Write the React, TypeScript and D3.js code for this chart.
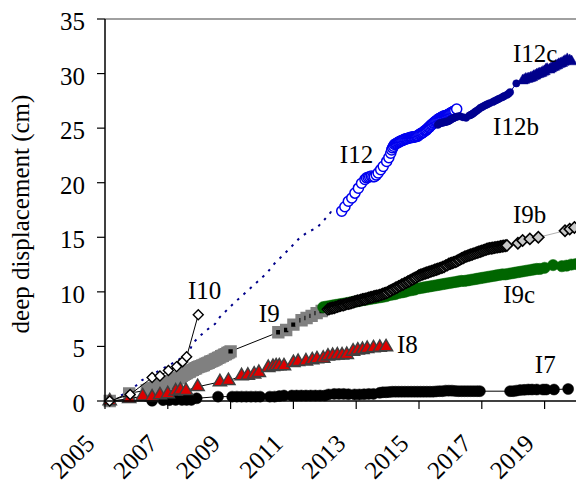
import React from 'react';
import * as d3 from 'd3';

type Pt = [number, number];

const W = 576;
const H = 488;
const margin = { top: 19, right: 0, bottom: 87, left: 105 };

const yTicks = [0, 5, 10, 15, 20, 25, 30, 35];
const xTicks = [2005, 2007, 2009, 2011, 2013, 2015, 2017, 2019];

// I7 - black circles
const i7: Pt[] = [
  [2005.15, 0], [2006.5, 0.02], [2006.85, 0.08], [2007.05, 0.08], [2007.25, 0.1], [2007.45, 0.1],
  [2007.6, 0.1], [2007.75, 0.1], [2007.92, 0.25], [2008.6, 0.4], [2009.05, 0.4], [2009.2, 0.4],
  [2009.35, 0.4], [2009.5, 0.4], [2009.65, 0.4], [2009.8, 0.4], [2009.94, 0.4], [2010.25, 0.4],
  [2010.4, 0.4], [2010.55, 0.45], [2010.7, 0.5], [2010.95, 0.5], [2011.1, 0.5], [2011.25, 0.5],
  [2011.4, 0.5], [2011.55, 0.5], [2011.7, 0.5], [2011.85, 0.5], [2012.0, 0.5], [2012.12, 0.6],
  [2012.3, 0.65], [2012.45, 0.65], [2012.6, 0.65], [2012.75, 0.62], [2012.95, 0.6], [2013.1, 0.6],
  [2013.25, 0.62], [2013.4, 0.65], [2013.55, 0.65], [2013.75, 0.75], [2013.85, 0.8], [2013.95, 0.8],
  [2014.05, 0.82], [2014.15, 0.85], [2014.25, 0.85], [2014.35, 0.85], [2014.45, 0.85], [2014.55, 0.85],
  [2014.65, 0.85], [2014.75, 0.85], [2014.85, 0.85], [2014.95, 0.85], [2015.05, 0.85], [2015.15, 0.85],
  [2015.25, 0.85], [2015.35, 0.85], [2015.45, 0.85], [2015.55, 0.88], [2015.65, 0.9], [2015.75, 0.9],
  [2015.85, 0.95], [2015.95, 0.95], [2016.05, 0.95], [2016.15, 0.92], [2016.25, 0.9], [2016.35, 0.9],
  [2016.45, 0.9], [2016.55, 0.9], [2016.65, 0.9], [2016.75, 0.9], [2016.85, 0.9], [2016.94, 0.9],
  [2017.9, 0.9], [2018.0, 0.9], [2018.1, 0.95], [2018.22, 1.0], [2018.35, 1.02], [2018.48, 1.05],
  [2018.6, 1.05], [2018.75, 1.05], [2018.95, 1.05], [2019.05, 1.05], [2019.3, 1.05], [2019.75, 1.1],
];

// I8 - red triangles
const i8: Pt[] = [
  [2005.15, 0], [2005.77, 0.2], [2006.2, 0.45], [2006.5, 0.35], [2006.75, 0.55], [2007.0, 0.65],
  [2007.25, 0.9], [2007.4, 1.0], [2007.58, 0.95], [2007.95, 1.3], [2008.66, 1.75], [2008.93, 1.85],
  [2009.35, 2.3], [2009.55, 2.35], [2009.75, 2.45], [2009.9, 2.6], [2010.2, 3.05], [2010.35, 3.15],
  [2010.45, 3.2], [2010.55, 3.2], [2010.7, 3.2], [2011.0, 3.5], [2011.15, 3.6], [2011.4, 3.65],
  [2011.6, 3.75], [2011.75, 3.85], [2011.95, 3.9], [2012.1, 4.1], [2012.25, 4.15], [2012.4, 4.2],
  [2012.55, 4.2], [2012.7, 4.25], [2012.9, 4.55], [2013.05, 4.65], [2013.2, 4.7], [2013.35, 4.8],
  [2013.55, 4.85], [2013.75, 4.9], [2013.95, 4.95],
];

// I9 - black squares, grey edge
const i9: Pt[] = [
  [2005.15, 0], [2005.77, 0.7], [2006.33, 1.0], [2006.4, 1.05], [2006.45, 1.1], [2006.5, 1.15],
  [2006.55, 1.2], [2006.6, 1.25], [2006.65, 1.3], [2006.7, 1.35], [2006.75, 1.45], [2006.8, 1.5],
  [2006.85, 1.55], [2006.9, 1.6], [2006.95, 1.65], [2007.0, 1.7], [2007.05, 1.75], [2007.1, 1.8],
  [2007.15, 1.85], [2007.2, 1.95], [2007.25, 2.0], [2007.3, 2.05], [2007.35, 2.1], [2007.4, 2.2],
  [2007.45, 2.3], [2007.5, 2.4], [2007.55, 2.5], [2007.6, 2.55], [2007.65, 2.65], [2007.7, 2.7],
  [2007.75, 2.8], [2007.8, 2.85], [2007.85, 2.95], [2007.9, 3.0], [2007.95, 3.1], [2008.0, 3.15],
  [2008.05, 3.2], [2008.1, 3.25], [2008.15, 3.3], [2008.2, 3.4], [2008.25, 3.45], [2008.3, 3.5],
  [2008.35, 3.6], [2008.4, 3.65], [2008.45, 3.7], [2008.5, 3.8], [2008.55, 3.85], [2008.6, 3.95],
  [2008.65, 4.0], [2008.7, 4.1], [2008.75, 4.15], [2008.8, 4.25], [2008.85, 4.3], [2008.9, 4.4],
  [2008.95, 4.45], [2009.0, 4.55], [2010.52, 6.3], [2010.77, 6.5], [2011.0, 7.0], [2011.26, 7.4],
  [2011.42, 7.6], [2011.58, 7.8], [2011.74, 8.05], [2011.9, 8.25],
];

// I9b - grey diamonds (dense record 2012-2017, then sparse)
const i9b: Pt[] = [
  [2012.1, 8.4], [2012.15, 8.45], [2012.2, 8.5], [2012.25, 8.52], [2012.3, 8.55], [2012.35, 8.6],
  [2012.4, 8.65], [2012.45, 8.7], [2012.5, 8.75], [2012.55, 8.78], [2012.6, 8.8], [2012.65, 8.85],
  [2012.7, 8.9], [2012.75, 8.92], [2012.8, 8.95], [2012.85, 9.0], [2012.9, 9.05], [2012.95, 9.1],
  [2013.0, 9.15], [2013.05, 9.18], [2013.1, 9.2], [2013.15, 9.25], [2013.2, 9.3], [2013.25, 9.32],
  [2013.3, 9.35], [2013.35, 9.4], [2013.4, 9.45], [2013.45, 9.48], [2013.5, 9.5], [2013.55, 9.55],
  [2013.6, 9.6], [2013.65, 9.62], [2013.7, 9.65], [2013.75, 9.7], [2013.8, 9.75], [2013.85, 9.8],
  [2013.9, 9.85], [2013.95, 9.9], [2014.0, 9.95], [2014.05, 10.05], [2014.1, 10.1], [2014.15, 10.2],
  [2014.2, 10.25], [2014.25, 10.35], [2014.3, 10.4], [2014.35, 10.5], [2014.4, 10.55], [2014.45, 10.65],
  [2014.5, 10.7], [2014.55, 10.8], [2014.6, 10.85], [2014.65, 10.95], [2014.7, 11.0], [2014.75, 11.1],
  [2014.8, 11.15], [2014.85, 11.25], [2014.9, 11.3], [2014.95, 11.4], [2015.0, 11.5], [2015.05, 11.55],
  [2015.1, 11.6], [2015.15, 11.65], [2015.2, 11.7], [2015.25, 11.75], [2015.3, 11.8], [2015.35, 11.85],
  [2015.4, 11.9], [2015.45, 11.95], [2015.5, 12.0], [2015.55, 12.05], [2015.6, 12.1], [2015.65, 12.15],
  [2015.7, 12.2], [2015.75, 12.25], [2015.8, 12.3], [2015.85, 12.4], [2015.9, 12.45], [2015.95, 12.55],
  [2016.0, 12.6], [2016.05, 12.65], [2016.1, 12.7], [2016.15, 12.75], [2016.2, 12.8], [2016.25, 12.9],
  [2016.3, 12.95], [2016.35, 13.05], [2016.4, 13.1], [2016.45, 13.2], [2016.5, 13.25], [2016.55, 13.3],
  [2016.6, 13.35], [2016.65, 13.4], [2016.7, 13.45], [2016.75, 13.5], [2016.8, 13.55], [2016.85, 13.6],
  [2016.9, 13.65], [2016.95, 13.7], [2017.0, 13.75], [2017.05, 13.8], [2017.1, 13.85], [2017.15, 13.9],
  [2017.2, 13.95], [2017.25, 13.98], [2017.3, 14.0], [2017.35, 14.02], [2017.4, 14.05], [2017.45, 14.08],
  [2017.5, 14.1], [2017.55, 14.12], [2017.6, 14.15], [2017.65, 14.18], [2017.7, 14.2], [2017.75, 14.22],
  [2017.8, 14.25], [2018.15, 14.45], [2018.3, 14.7], [2018.53, 14.85], [2018.8, 15.0], [2019.65, 15.6],
  [2019.8, 15.75], [2019.95, 15.9],
];

// I9c - green circles
const i9c: Pt[] = [
  [2011.95, 8.6], [2012.05, 8.65], [2012.15, 8.7], [2012.25, 8.75], [2012.35, 8.8], [2012.45, 8.85],
  [2012.55, 8.9], [2012.65, 8.95], [2012.75, 9.0], [2012.85, 9.05], [2012.95, 9.1], [2013.05, 9.15],
  [2013.15, 9.2], [2013.25, 9.25], [2013.35, 9.3], [2013.45, 9.35], [2013.55, 9.4], [2013.65, 9.45],
  [2013.75, 9.5], [2013.85, 9.55], [2013.95, 9.6], [2014.05, 9.7], [2014.15, 9.75], [2014.25, 9.8],
  [2014.35, 9.9], [2014.45, 9.95], [2014.55, 10.0], [2014.65, 10.1], [2014.75, 10.15], [2014.85, 10.2],
  [2014.95, 10.3], [2015.05, 10.35], [2015.15, 10.4], [2015.25, 10.45], [2015.35, 10.5], [2015.45, 10.55],
  [2015.55, 10.6], [2015.65, 10.65], [2015.75, 10.7], [2015.85, 10.75], [2015.95, 10.8], [2016.05, 10.85],
  [2016.15, 10.9], [2016.25, 10.95], [2016.35, 11.0], [2016.45, 11.0], [2016.55, 11.05], [2016.65, 11.1],
  [2016.75, 11.15], [2016.85, 11.2], [2016.95, 11.25], [2017.05, 11.3], [2017.15, 11.35], [2017.25, 11.4],
  [2017.35, 11.45], [2017.45, 11.5], [2017.55, 11.55], [2017.65, 11.6], [2017.75, 11.6], [2017.85, 11.65],
  [2017.95, 11.7], [2018.05, 11.75], [2018.15, 11.8], [2018.25, 11.85], [2018.35, 11.9], [2018.45, 11.95],
  [2018.55, 12.0], [2018.65, 12.05], [2018.75, 12.1], [2018.85, 12.1], [2019.0, 12.2], [2019.27, 12.45],
  [2019.55, 12.35], [2019.7, 12.4], [2019.85, 12.5], [2020.0, 12.55],
];

// I10 - white diamonds
const i10: Pt[] = [
  [2005.15, 0], [2005.8, 0.6], [2006.5, 2.15], [2006.75, 2.3], [2007.02, 2.8], [2007.28, 3.15],
  [2007.47, 3.6], [2007.6, 4.05], [2007.97, 7.9],
];

// I12 early readings - dotted line
const i12Early: Pt[] = [
  [2005.0, 0], [2005.5, 0.5], [2005.8, 0.9], [2006.17, 1.9], [2006.8, 2.9], [2007.3, 3.7],
  [2007.65, 4.35], [2007.8, 5.3], [2008.0, 5.9], [2008.24, 6.5], [2008.5, 7.05], [2008.66, 7.7],
  [2009.08, 8.9], [2009.5, 10.0], [2010.15, 11.7], [2010.4, 12.6], [2010.84, 13.85], [2011.2, 14.95],
  [2011.47, 15.5], [2011.74, 15.85], [2011.97, 16.55], [2012.19, 17.3], [2012.5, 17.4],
];

// I12 - open blue circles
const i12: Pt[] = [
  [2012.54, 17.4], [2012.64, 17.8], [2012.75, 18.3], [2012.86, 18.6], [2012.96, 19.05], [2013.07, 19.5],
  [2013.17, 19.95], [2013.28, 20.3], [2013.33, 20.45], [2013.38, 20.5], [2013.43, 20.55], [2013.48, 20.6],
  [2013.53, 20.55], [2013.58, 20.55], [2013.64, 20.7], [2013.7, 20.9], [2013.78, 21.2], [2013.86, 21.5],
  [2013.97, 21.95], [2014.04, 22.3], [2014.1, 22.7], [2014.13, 23.0], [2014.16, 23.2], [2014.19, 23.35],
  [2014.22, 23.5], [2014.25, 23.55], [2014.28, 23.6], [2014.31, 23.65], [2014.34, 23.7], [2014.37, 23.75],
  [2014.4, 23.8], [2014.43, 23.85], [2014.46, 23.85], [2014.49, 23.9], [2014.52, 23.95], [2014.55, 24.0],
  [2014.58, 24.0], [2014.61, 24.05], [2014.64, 24.05], [2014.67, 24.1], [2014.7, 24.1], [2014.73, 24.15],
  [2014.76, 24.15], [2014.79, 24.15], [2014.82, 24.2], [2014.85, 24.2], [2014.88, 24.2], [2014.91, 24.25],
  [2014.94, 24.25], [2014.97, 24.3], [2015.0, 24.4], [2015.03, 24.45], [2015.06, 24.5], [2015.09, 24.55],
  [2015.12, 24.6], [2015.15, 24.65], [2015.18, 24.75], [2015.21, 24.8], [2015.24, 24.85], [2015.27, 24.95],
  [2015.3, 25.05], [2015.33, 25.1], [2015.36, 25.2], [2015.39, 25.3], [2015.42, 25.35], [2015.45, 25.45],
  [2015.48, 25.5], [2015.51, 25.6], [2015.54, 25.65], [2015.57, 25.7], [2015.6, 25.8], [2015.63, 25.85],
  [2015.66, 25.9], [2015.69, 25.95], [2015.72, 26.0], [2015.75, 26.05], [2015.78, 26.1], [2015.81, 26.1],
  [2015.84, 26.15], [2015.87, 26.15], [2015.9, 26.2], [2015.93, 26.25], [2015.96, 26.3], [2015.99, 26.35],
  [2016.02, 26.4], [2016.05, 26.45], [2016.08, 26.5], [2016.11, 26.55], [2016.14, 26.6], [2016.2, 26.75],
];

// I12b - small navy dots
const i12b: Pt[] = [
  [2015.6, 25.3], [2015.64, 25.4], [2015.67, 25.45], [2015.71, 25.48], [2015.75, 25.5], [2015.78, 25.52],
  [2015.82, 25.55], [2015.86, 25.58], [2015.9, 25.6], [2015.94, 25.65], [2015.97, 25.7], [2016.01, 25.78],
  [2016.05, 25.85], [2016.09, 25.9], [2016.12, 25.95], [2016.16, 26.0], [2016.2, 26.05], [2016.25, 26.08],
  [2016.3, 26.1], [2016.4, 26.0], [2016.5, 25.95], [2016.6, 26.15], [2016.64, 26.2], [2016.67, 26.25],
  [2016.71, 26.32], [2016.75, 26.4], [2016.79, 26.5], [2016.84, 26.6], [2016.9, 26.72], [2016.95, 26.85],
  [2017.0, 26.92], [2017.05, 27.0], [2017.1, 27.08], [2017.15, 27.15], [2017.2, 27.22], [2017.26, 27.3],
  [2017.35, 27.4], [2017.4, 27.48], [2017.45, 27.55], [2017.5, 27.62], [2017.55, 27.7], [2017.63, 27.8],
  [2017.68, 27.88], [2017.72, 27.95], [2017.8, 28.05], [2017.85, 28.15], [2017.9, 28.3], [2018.1, 29.1],
];

// I12c - navy triangles
const i12c: Pt[] = [
  [2018.3, 29.35], [2018.35, 29.4], [2018.4, 29.5], [2018.45, 29.5], [2018.5, 29.55], [2018.55, 29.6],
  [2018.6, 29.65], [2018.65, 29.75], [2018.7, 29.8], [2018.75, 29.9], [2018.8, 29.95], [2018.85, 30.0],
  [2018.9, 30.05], [2018.95, 30.15], [2019.0, 30.2], [2019.04, 30.35], [2019.08, 30.4], [2019.15, 30.35],
  [2019.2, 30.45], [2019.25, 30.55], [2019.3, 30.6], [2019.35, 30.7], [2019.4, 30.75], [2019.45, 30.85],
  [2019.5, 30.9], [2019.55, 30.95], [2019.6, 31.05], [2019.65, 31.15], [2019.72, 31.3], [2019.8, 31.2],
  [2019.86, 31.1],
];

const seriesLabels: { text: string; at: Pt }[] = [
  { text: 'I12c', at: [2017.99, 31.1] },
  { text: 'I12b', at: [2017.36, 24.4] },
  { text: 'I12', at: [2012.48, 21.8] },
  { text: 'I9b', at: [2017.99, 16.3] },
  { text: 'I9c', at: [2017.68, 9.0] },
  { text: 'I10', at: [2007.64, 9.35] },
  { text: 'I9', at: [2009.9, 7.27] },
  { text: 'I8', at: [2014.3, 4.4] },
  { text: 'I7', at: [2018.69, 2.57] },
];

const FONT = "'Liberation Serif', 'Times New Roman', Times, serif";

const x = d3.scaleLinear().domain([2005, 2020]).range([margin.left, W - margin.right]);
const y = d3.scaleLinear().domain([0, 35]).range([H - margin.bottom, margin.top]);

const line = d3.line<Pt>().x(d => x(d[0])).y(d => y(d[1]));

const sym = (type: d3.SymbolType, size: number) => d3.symbol(type, size)() as string;

const Marks = ({ data, path, fill, stroke, sw, rot = 0 }:
  { data: Pt[]; path: string; fill: string; stroke: string; sw: number; rot?: number }) => (
  <g>
    {data.map((d, i) => (
      <path key={i} d={path} fill={fill} stroke={stroke} strokeWidth={sw}
        transform={`translate(${x(d[0])},${y(d[1])}) rotate(${rot})`} />
    ))}
  </g>
);

export default function App() {
  const x0 = margin.left;
  const y0 = H - margin.bottom;
  const txt = { fontFamily: FONT, fill: '#000' };
  return (
    <svg width={W} height={H} style={{ position: 'absolute', left: 0, top: 0, background: '#fff' }}>
      {/* frame */}
      <line x1={x0} x2={W} y1={margin.top} y2={margin.top} stroke="#808080" strokeWidth={1.5} />

      {/* I12 early, dotted */}
      <path d={line(i12Early) as string} fill="none" stroke="#00008b" strokeWidth={2} strokeDasharray="2.5 6" />

      {/* I12 */}
      <path d={line(i12) as string} fill="none" stroke="#0000ee" strokeWidth={1} />
      <Marks data={i12} path={sym(d3.symbolCircle, 80)} fill="#fff" stroke="#0000ee" sw={1.5} />

      {/* I12b */}
      <path d={line(i12b) as string} fill="none" stroke="#000090" strokeWidth={1} />
      <Marks data={i12b} path={sym(d3.symbolCircle, 42)} fill="#000090" stroke="#000090" sw={0.5} />

      {/* I12c */}
      <path d={line(i12c) as string} fill="none" stroke="#00008b" strokeWidth={1} />
      <Marks data={i12c} path={sym(d3.symbolTriangle, 55)} fill="#00008b" stroke="#00008b" sw={0.5} />

      {/* I7 */}
      <path d={line(i7) as string} fill="none" stroke="#000" strokeWidth={1} />
      <Marks data={i7} path={sym(d3.symbolCircle, 95)} fill="#000" stroke="#000" sw={0.5} />

      {/* I9 */}
      <path d={line(i9) as string} fill="none" stroke="#000" strokeWidth={1} />
      <Marks data={i9} path={sym(d3.symbolSquare, 70)} fill="#000" stroke="#808080" sw={4} />

      {/* I8 */}
      <path d={line(i8) as string} fill="none" stroke="#000" strokeWidth={1} />
      <Marks data={i8} path={sym(d3.symbolTriangle, 75)} fill="#dd0000" stroke="#404040" sw={1.5} />

      {/* I10 */}
      <path d={line(i10) as string} fill="none" stroke="#000" strokeWidth={1} />
      <Marks data={i10} path={sym(d3.symbolSquare, 50)} fill="#fff" stroke="#000" sw={1.4} rot={45} />

      {/* I9c */}
      <Marks data={i9c} path={sym(d3.symbolCircle, 100)} fill="#006600" stroke="#006600" sw={0.5} />

      {/* I9b */}
      <path d={line(i9b) as string} fill="none" stroke="#b0b0b0" strokeWidth={1} />
      <Marks data={i9b} path={sym(d3.symbolSquare, 62)} fill="#c8c8c8" stroke="#000" sw={1.6} rot={45} />

      {/* axes */}
      <line x1={x0} x2={x0} y1={margin.top} y2={y0} stroke="#000" strokeWidth={1.5} />
      <line x1={x0} x2={W} y1={y0} y2={y0} stroke="#000" strokeWidth={1.5} />
      {yTicks.map(t => (
        <g key={t}>
          <line x1={x0 - 8} x2={x0} y1={y(t)} y2={y(t)} stroke="#000" strokeWidth={1.2} />
          <text x={x0 - 20} y={y(t) + 11} textAnchor="end" fontSize={25} style={txt}>{t}</text>
        </g>
      ))}
      {xTicks.map(t => (
        <g key={t}>
          <line x1={x(t)} x2={x(t)} y1={y0} y2={y0 + 8} stroke="#000" strokeWidth={1.2} />
          <text transform={`translate(${x(t) - 9},${y0 + 44}) rotate(-45)`} textAnchor="end" fontSize={25} style={txt}>{t}</text>
        </g>
      ))}
      <text transform={`translate(29,214) rotate(-90)`} textAnchor="middle" fontSize={25} style={txt}>deep displacement (cm)</text>

      {seriesLabels.map(l => (
        <text key={l.text} x={x(l.at[0])} y={y(l.at[1])} fontSize={25} style={txt}>{l.text}</text>
      ))}
    </svg>
  );
}
